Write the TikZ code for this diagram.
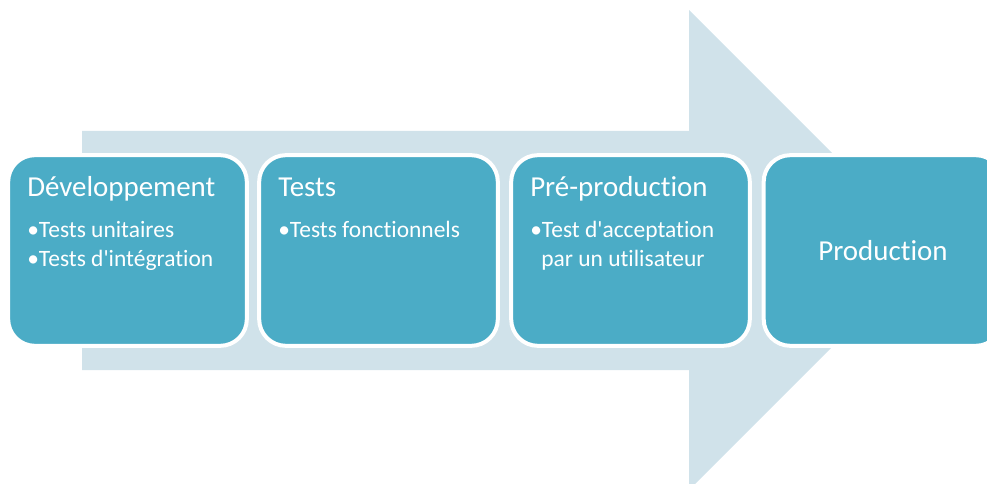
\documentclass[tikz,border=0pt]{standalone}
\usepackage{fontspec}
\setmainfont[Ligatures={CommonOff,TeXOff}]{Carlito}
\definecolor{stagefill}{HTML}{4BACC6}
\definecolor{arrowfill}{HTML}{D0E2EA}
\begin{document}
\begin{tikzpicture}[x=0.75pt,y=-0.75pt,
  stage/.style={draw=white,line width=3pt,fill=stagefill,rounded corners=20pt,
    minimum width=179pt,minimum height=143pt,inner sep=0pt,text=white,
    font=\fontsize{21.7}{26}\selectfont},
  title/.style={anchor=base west,inner sep=0pt,text=white,font=\fontsize{21.7}{26}\selectfont},
  item/.style={anchor=base west,inner sep=0pt,text=white,font=\fontsize{17.6}{20}\selectfont}]
\useasboundingbox (0,0) rectangle (987,484);
% the big arrow behind the stages
\fill[arrowfill] (82,131) -- (689,131) -- (689,10) -- (929,250)
  -- (689,490) -- (689,370) -- (82,370) -- cycle;
% stages
\node[stage] (dev) at (127.5,250.5) {};
\node[stage] (tests) at (378.5,250.5) {};
\node[stage] (preprod) at (630.5,250.5) {};
\node[stage] (prod) at (883,250.5) {Production};
% texts
\node[title] (devtitle) at (27,197) {Développement};
\node[item] (deva) at (27,238) {•Tests unitaires};
\node[item] (devb) at (27,267) {•Tests d'intégration};
\node[title] (teststitle) at (278,197) {Tests};
\node[item] (testsa) at (278,238) {•Tests fonctionnels};
\node[title] (preprodtitle) at (530,197) {Pré-production};
\node[item] (preproda) at (530,238) {•Test d'acceptation};
\node[item] (preprodb) at (541,267) {par un utilisateur};
\end{tikzpicture}
\end{document}
